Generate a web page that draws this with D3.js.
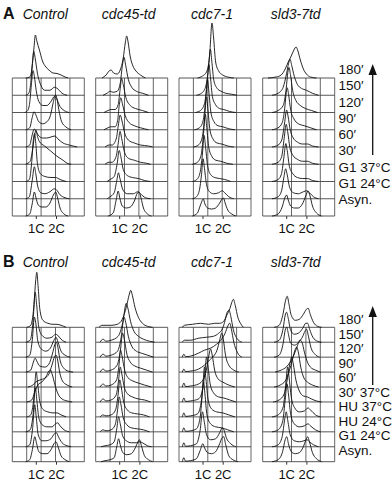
<!DOCTYPE html>
<html>
<head>
<meta charset="utf-8">
<script src="https://cdn.jsdelivr.net/npm/d3@7"></script>
<style>
  body { margin: 0; background: #fff; }
  svg text { font-family: "Liberation Sans", Arial, Helvetica, sans-serif; fill: #111; }
</style>
</head>
<body>
<div id="fig"></div>
<script>
// ---------- data ----------
const strains = ["Control", "cdc45-td", "cdc7-1", "sld3-7td"];
const rowsA = ["Asyn.", "G1 24°C", "G1 37°C", "30′", "60′", "90′", "120′", "150′", "180′"];
const rowsB = ["Asyn.", "G1 24°C", "HU 24°C", "HU 37°C", "30′ 37°C", "60′", "90′", "120′", "150′", "180′"];
const tickVals = [1, 2];
const tickLabels = ["1C", "2C"];

// histograms, bottom row first; each point = [DNA content (C), cell count]
const aControl = [
  [[0.5,0],[0.7,2],[0.82,12],[0.93,24],[1.0,19],[1.12,11],[1.3,9],[1.5,9],[1.7,13],[1.87,21],[1.99,24],[2.08,18],[2.2,8],[2.4,2],[2.6,0]],
  [[0.5,0],[0.68,2],[0.82,18],[0.93,32],[1.0,25],[1.1,12],[1.25,6],[1.45,5],[1.7,7],[1.92,10],[2.02,9],[2.2,4],[2.45,1],[2.65,0]],
  [[0.5,0],[0.68,2],[0.8,20],[0.88,42],[0.94,48],[1.0,38],[1.08,18],[1.22,8],[1.45,5],[1.75,4],[1.98,4],[2.2,2],[2.5,0]],
  [[0.5,0],[0.72,3],[0.85,16],[0.95,30],[1.01,34],[1.08,28],[1.17,23],[1.45,18],[1.75,13],[2.05,8],[2.35,4],[2.55,1],[2.75,0]],
  [[0.5,0],[0.7,2],[0.82,12],[0.92,18],[1.0,16],[1.15,11],[1.35,9],[1.55,9],[1.75,10],[1.95,11],[2.1,8],[2.35,4],[2.65,2],[3.05,0]],
  [[0.5,0],[0.7,2],[0.82,12],[0.91,18],[1.0,15],[1.15,8],[1.35,6],[1.55,8],[1.72,14],[1.86,27],[1.97,35],[2.05,31],[2.14,20],[2.28,8],[2.48,3],[2.75,0]],
  [[0.45,0],[0.6,2],[0.7,10],[0.79,30],[0.86,42],[0.93,36],[1.02,22],[1.15,11],[1.35,7],[1.55,7],[1.75,11],[1.92,16],[2.02,14],[2.2,6],[2.4,2],[2.65,0]],
  [[0.5,0],[0.65,2],[0.75,12],[0.83,32],[0.9,44],[0.97,37],[1.08,22],[1.25,10],[1.45,5],[1.7,5],[1.92,8],[2.05,7],[2.3,2],[2.55,0]],
  [[0.5,0],[0.7,1],[0.8,8],[0.9,28],[0.98,43],[1.05,37],[1.18,28],[1.33,17],[1.5,11],[1.65,8],[1.85,5],[2.05,4.5],[2.25,3],[2.45,1],[2.6,0]]
];
const aCdc45 = [
  [[0.45,0],[0.7,3],[0.85,16],[0.95,25],[1.03,18],[1.15,10],[1.35,8],[1.55,9],[1.75,15],[1.9,23],[1.98,24],[2.08,18],[2.2,8],[2.4,2],[2.6,0]],
  [[0.4,0],[0.55,2],[0.75,6],[0.88,18],[0.96,26],[1.04,20],[1.18,9],[1.4,5],[1.7,5],[1.92,7],[2.05,5],[2.3,1],[2.55,0]],
  [[0.4,0],[0.55,2],[0.75,5],[0.9,18],[1.0,31],[1.08,25],[1.2,12],[1.4,6],[1.65,4],[1.95,3],[2.25,1],[2.55,0]],
  [[0.3,0],[0.5,2],[0.65,2],[0.85,8],[0.96,22],[1.04,33],[1.12,26],[1.25,13],[1.45,6],[1.75,4],[2.05,2],[2.35,1],[2.55,0]],
  [[0.3,0],[0.5,2],[0.65,2],[0.85,8],[0.96,22],[1.05,32],[1.14,26],[1.27,14],[1.45,7],[1.75,4],[2.05,2],[2.45,1],[2.65,0]],
  [[0.25,0],[0.45,2],[0.6,3],[0.8,3],[0.92,9],[1.0,24],[1.08,32],[1.16,26],[1.3,14],[1.5,7],[1.75,4],[2.05,2],[2.45,0]],
  [[0.25,0],[0.45,2],[0.6,3],[0.8,3],[0.95,8],[1.05,24],[1.12,34],[1.2,28],[1.33,15],[1.55,7],[1.8,4],[2.15,2],[2.45,0]],
  [[0.2,0],[0.4,2],[0.55,4],[0.7,3],[0.9,4],[1.05,12],[1.16,30],[1.24,38],[1.32,30],[1.45,16],[1.62,8],[1.85,4],[2.15,2],[2.45,0]],
  [[0.15,0],[0.35,3],[0.5,7],[0.6,8],[0.72,5],[0.9,4],[1.05,8],[1.2,20],[1.3,35],[1.37,42],[1.44,36],[1.54,22],[1.68,12],[1.83,7],[2.05,3],[2.3,0]]
];
const aCdc7 = [
  [[0.5,0],[0.75,3],[0.9,11],[1.04,17],[1.12,12],[1.25,8],[1.45,7],[1.65,8],[1.85,13],[1.97,17],[2.04,18],[2.12,13],[2.25,6],[2.45,2],[2.65,0]],
  [[0.5,0],[0.7,2],[0.85,9],[0.95,24],[1.03,40],[1.1,30],[1.2,14],[1.35,7],[1.55,5],[1.8,6],[1.98,8],[2.1,6],[2.3,2],[2.55,0]],
  [[0.5,0],[0.72,2],[0.88,9],[0.99,26],[1.08,46],[1.15,35],[1.25,16],[1.4,7],[1.6,4],[1.85,3],[2.1,2],[2.4,0]],
  [[0.5,0],[0.75,2],[0.93,9],[1.04,28],[1.14,50],[1.21,37],[1.31,17],[1.46,8],[1.66,4],[1.9,3],[2.2,1],[2.5,0]],
  [[0.55,0],[0.8,2],[0.98,9],[1.1,28],[1.2,50],[1.27,37],[1.37,17],[1.52,8],[1.72,4],[1.95,3],[2.25,1],[2.55,0]],
  [[0.6,0],[0.85,2],[1.03,9],[1.15,28],[1.25,50],[1.32,37],[1.42,17],[1.57,8],[1.77,4],[2.0,3],[2.3,1],[2.6,0]],
  [[0.65,0],[0.9,2],[1.1,9],[1.22,27],[1.32,48],[1.39,36],[1.49,16],[1.64,8],[1.84,4],[2.05,3],[2.35,1],[2.65,0]],
  [[0.7,0],[0.95,2],[1.15,8],[1.29,26],[1.39,46],[1.46,34],[1.56,15],[1.72,7],[1.92,4],[2.15,2],[2.45,1],[2.7,0]],
  [[0.75,0],[1.0,2],[1.2,6],[1.35,22],[1.47,55],[1.55,40],[1.65,16],[1.8,7],[2.0,3],[2.25,1],[2.55,0]]
];
const aSld3 = [
  [[0.3,0],[0.6,2],[0.8,9],[0.93,18],[1.02,21],[1.1,16],[1.22,10],[1.4,8],[1.6,8],[1.8,12],[1.97,20],[2.08,25],[2.18,20],[2.3,10],[2.5,3],[2.75,0]],
  [[0.3,0],[0.6,2],[0.77,8],[0.89,22],[0.97,30],[1.05,24],[1.16,12],[1.35,6],[1.6,5],[1.85,7],[2.02,8],[2.15,6],[2.35,2],[2.6,0]],
  [[0.3,0],[0.6,2],[0.77,8],[0.89,25],[0.98,38],[1.05,31],[1.16,15],[1.32,8],[1.55,4],[1.8,3],[2.05,3],[2.3,1],[2.6,0]],
  [[0.3,0],[0.6,2],[0.78,8],[0.9,26],[1.0,40],[1.07,33],[1.18,17],[1.33,9],[1.55,5],[1.8,3],[2.05,3],[2.3,1],[2.6,0]],
  [[0.3,0],[0.6,2],[0.78,7],[0.92,24],[1.02,37],[1.09,31],[1.2,17],[1.35,9],[1.55,5],[1.8,3],[2.05,3],[2.3,1],[2.6,0]],
  [[0.3,0],[0.6,2],[0.8,7],[0.94,24],[1.0,37],[1.05,42],[1.12,35],[1.22,20],[1.38,11],[1.6,6],[1.9,4],[2.2,2],[2.5,0]],
  [[0.3,0],[0.6,2],[0.85,7],[1.0,24],[1.08,40],[1.14,45],[1.21,38],[1.32,22],[1.48,12],[1.7,7],[1.95,4],[2.25,2],[2.55,0]],
  [[0.3,0],[0.6,2],[0.85,8],[1.02,22],[1.12,32],[1.19,36],[1.27,30],[1.4,19],[1.55,11],[1.75,7],[2.0,5],[2.3,2],[2.6,0]],
  [[0.1,0],[0.5,1],[0.75,3],[0.95,9],[1.1,16],[1.25,22],[1.38,28],[1.49,31],[1.58,27],[1.7,18],[1.85,9],[2.0,4],[2.2,1],[2.5,0]]
];
const bControl = [
  [[0.5,0],[0.7,2],[0.83,12],[0.95,25],[1.03,19],[1.15,10],[1.35,8],[1.55,8],[1.75,12],[1.9,18],[2.0,20],[2.1,15],[2.25,6],[2.45,2],[2.65,0]],
  [[0.5,0],[0.7,2],[0.84,18],[0.95,42],[1.02,30],[1.12,12],[1.3,6],[1.5,6],[1.75,8],[1.92,13],[2.02,14],[2.12,10],[2.3,4],[2.55,1],[2.75,0]],
  [[0.5,0],[0.72,2],[0.87,18],[0.98,44],[1.05,32],[1.15,14],[1.32,7],[1.55,5],[1.8,5],[1.98,8],[2.08,9],[2.2,6],[2.4,2],[2.65,0]],
  [[0.55,0],[0.75,2],[0.9,18],[1.02,45],[1.09,34],[1.2,15],[1.38,7],[1.6,5],[1.85,4],[2.05,4],[2.25,2],[2.5,0]],
  [[0.55,0],[0.8,2],[0.95,10],[1.1,17],[1.3,20],[1.5,25],[1.65,31],[1.72,32],[1.82,27],[1.95,17],[2.1,8],[2.3,3],[2.55,1],[2.8,0]],
  [[0.6,0],[0.85,2],[1.0,5],[1.2,7],[1.45,9],[1.65,13],[1.8,22],[1.92,30],[2.0,32],[2.08,27],[2.18,15],[2.32,6],[2.55,2],[2.8,0]],
  [[0.5,0],[0.75,2],[0.88,10],[0.97,14],[1.05,11],[1.2,6],[1.45,5],[1.65,8],[1.82,18],[1.95,28],[2.02,30],[2.1,24],[2.2,12],[2.38,4],[2.6,1],[2.85,0]],
  [[0.5,0],[0.7,2],[0.83,18],[0.93,40],[1.0,34],[1.1,16],[1.28,8],[1.5,6],[1.72,9],[1.9,17],[2.0,20],[2.1,15],[2.25,6],[2.45,2],[2.7,0]],
  [[0.5,0],[0.72,2],[0.86,20],[0.97,50],[1.04,38],[1.14,16],[1.3,7],[1.55,4],[1.8,5],[1.98,8],[2.08,7],[2.25,3],[2.5,0]],
  [[0.55,0],[0.75,2],[0.9,20],[1.0,48],[1.05,55],[1.11,42],[1.2,18],[1.35,7],[1.6,4],[1.85,3],[2.05,3],[2.25,2],[2.5,0]]
];
const bCdc45 = [
  [[0.1,0],[0.3,1],[0.55,2],[0.75,4],[0.88,15],[0.97,23],[1.05,17],[1.18,9],[1.38,7],[1.6,8],[1.8,14],[1.93,20],[2.0,22],[2.1,16],[2.25,6],[2.45,2],[2.65,0]],
  [[0.1,0],[0.3,1],[0.55,2],[0.75,5],[0.88,18],[0.97,30],[1.05,23],[1.17,11],[1.35,6],[1.6,4],[1.85,4],[2.02,5],[2.15,4],[2.4,1],[2.6,0]],
  [[0.05,0],[0.2,2],[0.35,1],[0.6,2],[0.8,7],[0.92,22],[1.0,35],[1.08,28],[1.2,14],[1.38,7],[1.6,4],[1.9,3],[2.2,2],[2.5,0]],
  [[0.05,0],[0.2,2],[0.35,1],[0.6,2],[0.82,7],[0.95,23],[1.03,37],[1.1,30],[1.22,15],[1.4,7],[1.62,4],[1.9,3],[2.2,2],[2.5,0]],
  [[0.05,0],[0.2,3],[0.35,1],[0.6,2],[0.85,7],[0.97,22],[1.05,35],[1.12,29],[1.25,15],[1.42,8],[1.65,5],[1.95,3],[2.25,2],[2.55,0]],
  [[0.05,0],[0.2,3],[0.35,1],[0.6,2],[0.87,7],[0.99,22],[1.07,37],[1.14,31],[1.27,17],[1.45,9],[1.68,6],[1.95,4],[2.25,2],[2.6,0]],
  [[0.05,0],[0.2,3],[0.35,1],[0.6,2],[0.9,7],[1.06,22],[1.17,39],[1.25,33],[1.38,18],[1.55,10],[1.78,6],[2.05,4],[2.35,2],[2.65,0]],
  [[0.05,0],[0.2,3],[0.35,1],[0.6,2],[0.92,6],[1.1,20],[1.24,40],[1.32,35],[1.45,21],[1.62,11],[1.85,6],[2.1,4],[2.4,2],[2.7,0]],
  [[0.05,0],[0.2,3],[0.35,1],[0.6,2],[0.95,6],[1.18,20],[1.35,39],[1.43,34],[1.56,21],[1.73,11],[1.95,6],[2.2,3],[2.5,1],[2.75,0]],
  [[0.0,0],[0.15,2],[0.35,2],[0.6,2],[0.9,3],[1.15,8],[1.35,20],[1.5,33],[1.57,37],[1.65,32],[1.78,20],[1.95,10],[2.15,4],[2.4,1],[2.65,0]]
];
const bCdc7 = [
  [[0.0,0],[0.08,4],[0.16,0.5],[0.4,1],[0.7,3],[0.88,11],[1.02,18],[1.1,14],[1.25,9],[1.45,8],[1.65,10],[1.85,18],[1.97,24],[2.05,25],[2.15,17],[2.3,6],[2.5,2],[2.75,0]],
  [[0.0,0],[0.08,4],[0.16,0.5],[0.4,1],[0.7,3],[0.88,16],[1.0,35],[1.08,26],[1.2,12],[1.4,7],[1.65,8],[1.85,14],[1.98,19],[2.06,17],[2.18,9],[2.4,3],[2.65,0]],
  [[0.0,0],[0.08,4],[0.16,0.5],[0.4,1],[0.7,3],[0.88,14],[0.98,35],[1.05,50],[1.12,38],[1.22,17],[1.4,8],[1.65,5],[1.95,4],[2.25,2],[2.55,0]],
  [[0.0,0],[0.08,4],[0.16,0.5],[0.4,1],[0.75,3],[0.93,14],[1.03,35],[1.1,50],[1.17,38],[1.28,17],[1.45,8],[1.7,5],[2.0,4],[2.3,2],[2.6,0]],
  [[0.0,0],[0.08,4],[0.16,0.5],[0.4,1],[0.8,3],[1.0,12],[1.12,30],[1.2,45],[1.27,36],[1.38,18],[1.55,9],[1.8,5],[2.05,4],[2.35,2],[2.65,0]],
  [[0.0,0],[0.08,4],[0.16,0.5],[0.4,1],[0.8,3],[1.05,8],[1.2,18],[1.32,32],[1.4,38],[1.48,32],[1.6,17],[1.78,8],[2.0,5],[2.3,2],[2.6,0]],
  [[0.0,0],[0.08,3],[0.16,0.5],[0.4,1],[0.8,3],[1.1,7],[1.35,12],[1.55,16],[1.72,22],[1.85,32],[1.95,39],[2.03,33],[2.13,18],[2.3,7],[2.55,2],[2.8,0]],
  [[0.0,0],[0.08,3],[0.16,0.5],[0.4,1],[0.8,4],[1.1,7],[1.4,9],[1.7,13],[1.95,18],[2.12,24],[2.25,31],[2.35,34],[2.43,28],[2.55,15],[2.72,5],[2.95,0]],
  [[0.0,0],[0.1,2],[0.4,2],[0.8,4],[1.2,5],[1.55,6],[1.8,9],[2.0,14],[2.12,22],[2.22,30],[2.31,32],[2.4,26],[2.52,13],[2.7,4],[2.95,0]],
  [[0.0,0],[0.1,2],[0.5,3],[0.9,4],[1.3,3],[1.6,4],[1.85,4],[2.05,6],[2.2,12],[2.36,19],[2.45,25],[2.53,28],[2.62,22],[2.75,10],[2.88,4],[3.02,0]]
];
const bSld3 = [
  [[0.3,0],[0.6,2],[0.82,10],[0.95,22],[1.03,25],[1.11,18],[1.25,10],[1.45,8],[1.65,9],[1.85,15],[1.98,22],[2.06,25],[2.15,20],[2.3,9],[2.5,3],[2.75,0]],
  [[0.3,0],[0.6,2],[0.8,10],[0.93,28],[1.0,35],[1.08,26],[1.2,12],[1.4,6],[1.65,5],[1.88,6],[2.03,7],[2.15,5],[2.35,2],[2.6,0]],
  [[0.3,0],[0.6,2],[0.82,10],[0.96,34],[1.04,48],[1.11,38],[1.22,18],[1.4,8],[1.65,5],[1.9,6],[2.08,8],[2.2,6],[2.45,2],[2.7,0]],
  [[0.3,0],[0.6,2],[0.85,10],[0.99,35],[1.07,50],[1.14,40],[1.25,20],[1.42,9],[1.65,5],[1.9,6],[2.08,9],[2.2,7],[2.45,2],[2.7,0]],
  [[0.35,0],[0.65,2],[0.9,8],[1.05,22],[1.18,38],[1.27,45],[1.35,38],[1.48,22],[1.65,11],[1.85,6],[2.05,5],[2.25,3],[2.5,1],[2.75,0]],
  [[0.4,0],[0.7,2],[0.95,6],[1.1,13],[1.28,25],[1.42,36],[1.52,40],[1.6,35],[1.72,20],[1.88,9],[2.05,5],[2.3,2],[2.6,0]],
  [[0.45,0],[0.75,2],[1.0,5],[1.2,10],[1.38,17],[1.55,26],[1.68,32],[1.78,30],[1.9,20],[2.05,10],[2.2,5],[2.45,2],[2.7,0]],
  [[0.4,0],[0.65,2],[0.85,14],[0.95,27],[1.03,30],[1.1,24],[1.22,14],[1.42,12],[1.62,15],[1.8,20],[1.93,26],[2.01,28],[2.1,21],[2.22,10],[2.42,3],[2.65,0]],
  [[0.4,0],[0.65,2],[0.85,14],[0.95,27],[1.02,30],[1.1,24],[1.22,12],[1.4,8],[1.6,9],[1.82,14],[1.97,19],[2.06,19],[2.16,13],[2.32,5],[2.55,1],[2.75,0]],
  [[0.4,0],[0.65,2],[0.85,14],[0.97,27],[1.05,31],[1.13,24],[1.25,12],[1.45,7],[1.65,8],[1.85,13],[2.0,18],[2.09,19],[2.19,13],[2.35,5],[2.55,1],[2.75,0]]
];

// ---------- layout ----------
const W = 392, H = 486;
const colLeft = [12.3, 95.7, 179, 262.7];
const colW = 72;

const panels = [
  { letter: "A", rows: rowsA, sets: [aControl, aCdc45, aCdc7, aSld3],
    top: 78, bottom: 216, titleY: 19, labTop: 74, labBottom: 204, arrowTop: 64, arrowBottom: 155 },
  { letter: "B", rows: rowsB, sets: [bControl, bCdc45, bCdc7, bSld3],
    top: 327.3, bottom: 461.7, titleY: 267, labTop: 324, labBottom: 455, arrowTop: 306, arrowBottom: 385 }
];

const svg = d3.select("#fig").append("svg")
  .attr("width", W)
  .attr("height", H);

// DNA content -> px inside one column; counts -> px height
const x = d3.scaleLinear().domain([1, 2]).range([23.5, 43.7]);
const h = d3.scaleLinear().domain([0, 60]).range([0, 60]);

panels.forEach(p => {
  const g = svg.append("g");
  const n = p.rows.length;
  const base = d3.scaleLinear().domain([0, n - 1]).range([p.bottom, p.top]);

  g.append("text")
    .attr("x", 3).attr("y", p.titleY)
    .attr("font-size", 16).attr("font-weight", "bold")
    .text(p.letter);

  p.sets.forEach((traces, si) => {
    const cg = g.append("g").attr("transform", `translate(${colLeft[si]},0)`);

    cg.append("text")
      .attr("x", 33).attr("y", p.titleY)
      .attr("text-anchor", "middle")
      .attr("font-size", 14).attr("font-style", "italic")
      .text(strains[si]);

    // grid
    cg.selectAll("line.v").data(d3.range(6)).join("line")
      .attr("x1", i => i * colW / 5).attr("x2", i => i * colW / 5)
      .attr("y1", p.top).attr("y2", p.bottom)
      .attr("stroke", "#555").attr("stroke-width", 0.9);
    cg.selectAll("line.hz").data(d3.range(n)).join("line")
      .attr("x1", 0).attr("x2", colW)
      .attr("y1", k => base(k)).attr("y2", k => base(k))
      .attr("stroke", "#444").attr("stroke-width", 0.9);

    // histograms
    traces.forEach((t, k) => {
      const line = d3.line()
        .x(d => x(d[0]))
        .y(d => base(k) - h(d[1]))
        .curve(d3.curveMonotoneX);
      cg.append("path")
        .attr("d", line(t))
        .attr("fill", "none")
        .attr("stroke", "#111")
        .attr("stroke-width", 0.9);
    });

    // 1C / 2C axis
    const ax = cg.append("g")
      .attr("transform", `translate(0,${p.bottom})`)
      .call(d3.axisBottom(x).tickValues(tickVals)
        .tickFormat((d, i) => tickLabels[i]).tickSize(3).tickPadding(5));
    ax.select(".domain").remove();
    ax.selectAll("line").attr("stroke", "#333");
    ax.selectAll("text").attr("font-size", 13).attr("font-family", "Liberation Sans, Arial, sans-serif").attr("fill", "#111");
  });

  // row labels on the right
  const ly = d3.scaleLinear().domain([0, n - 1]).range([p.labBottom, p.labTop]);
  g.selectAll("text.row").data(p.rows).join("text")
    .attr("x", 338.5).attr("y", (d, i) => ly(i))
    .attr("font-size", 13.5)
    .text(d => d);

  // time arrow
  g.append("line")
    .attr("x1", 372.7).attr("x2", 372.7)
    .attr("y1", p.arrowBottom).attr("y2", p.arrowTop + 8)
    .attr("stroke", "#111").attr("stroke-width", 1.3);
  g.append("path")
    .attr("d", `M372.7,${p.arrowTop} L368.5,${p.arrowTop + 11} L376.9,${p.arrowTop + 11} Z`)
    .attr("fill", "#111");
});
</script>
</body>
</html>
